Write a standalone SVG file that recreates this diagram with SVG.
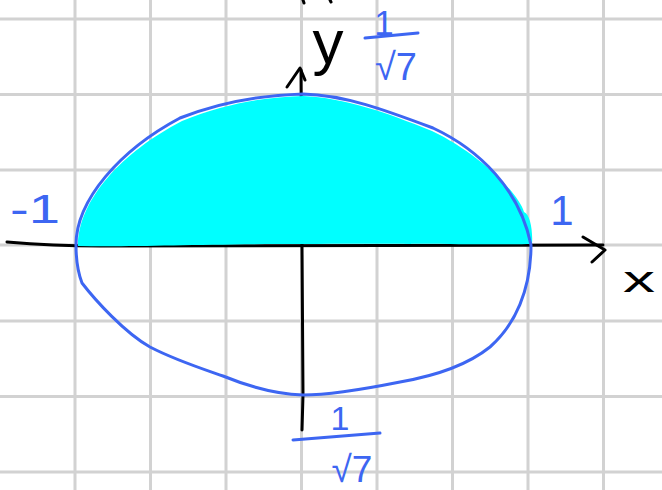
<svg xmlns="http://www.w3.org/2000/svg" width="662" height="490" viewBox="0 0 662 490">
<style>
.grid{stroke:#d2d2d2;stroke-width:3;fill:none}
.axis{stroke:#000;stroke-width:3;fill:none;stroke-linecap:round;stroke-linejoin:round}
.curve{stroke:#3d66f2;stroke-width:3;fill:none;stroke-linecap:round;stroke-linejoin:round}
.blue{fill:#3d66f2;font-family:"Liberation Sans",Arial,sans-serif}
.black{fill:#000;font-family:"Liberation Sans",Arial,sans-serif}
</style>
<rect width="662" height="490" fill="#fff"/>
<g id="grid" class="grid">
<line x1="75" y1="0" x2="75" y2="490"/>
<line x1="150.5" y1="0" x2="150.5" y2="490"/>
<line x1="226" y1="0" x2="226" y2="490"/>
<line x1="301.5" y1="0" x2="301.5" y2="490"/>
<line x1="377" y1="0" x2="377" y2="490"/>
<line x1="452.5" y1="0" x2="452.5" y2="490"/>
<line x1="528" y1="0" x2="528" y2="490"/>
<line x1="603.5" y1="0" x2="603.5" y2="490"/>
<line x1="0" y1="19" x2="662" y2="19"/>
<line x1="0" y1="94.5" x2="662" y2="94.5"/>
<line x1="0" y1="170" x2="662" y2="170"/>
<line x1="0" y1="245" x2="662" y2="245"/>
<line x1="0" y1="321" x2="662" y2="321"/>
<line x1="0" y1="396.5" x2="662" y2="396.5"/>
<line x1="0" y1="472" x2="662" y2="472"/>
</g>
<g id="axes" class="axis">
<path d="M7,242 C30,244 60,246 100,246 C200,246 400,244 603,245"/>
<path d="M583,237 L605,250 L592,262"/>
<path d="M302,430 L303,395 L302,245 L301,70"/>
<path d="M287,87 L300,68 L305,80"/>
<path d="M303,0 L304,3"/>
<path d="M330,0 L331,2"/>
</g>
<g id="fill-region">
<path fill="#00ffff" d="M78,246 C78,200 122,152 182,121 C226,103 266,97 303,96 C345,98 385,112 432,131 C478,153 518,192 524,212 C530,214 533,230 532,244 C500,245 400,243 300,244 C200,244 140,247 78,246 Z"/>
</g>
<g id="ellipse" class="curve">
<path d="M76,245 C76,200 120,150 180,118 C225,100 265,95 303,94 C345,95 385,110 433,128 C480,150 520,190 531,245 C531,290 515,325 490,347 C470,363 440,375 400,382 C360,390 330,395 303,395 C275,394 245,385 223,376 C200,368 175,360 150,347 C125,333 95,300 82,283 C77,270 76,258 76,245 Z"/>
</g>
<g id="labels">
<text class="black" x="328" y="63" font-size="62" text-anchor="middle">y</text>
<text class="blue" x="384" y="35" font-size="35" text-anchor="middle">1</text>
<line class="curve" x1="365" y1="38" x2="418" y2="33"/>
<text class="blue" x="396" y="80" font-size="38" text-anchor="middle">√7</text>
<text class="blue" x="340" y="430" font-size="34" text-anchor="middle">1</text>
<line class="curve" x1="293" y1="440" x2="380" y2="433"/>
<text class="blue" x="352" y="482" font-size="37" text-anchor="middle">√7</text>
<text class="blue" x="10" y="223" font-size="40" textLength="50" lengthAdjust="spacingAndGlyphs">-1</text>
<text class="blue" x="562" y="225" font-size="42" text-anchor="middle">1</text>
<text class="black" x="623" y="292" font-size="36" textLength="32" lengthAdjust="spacingAndGlyphs">x</text>
</g>
</svg>
